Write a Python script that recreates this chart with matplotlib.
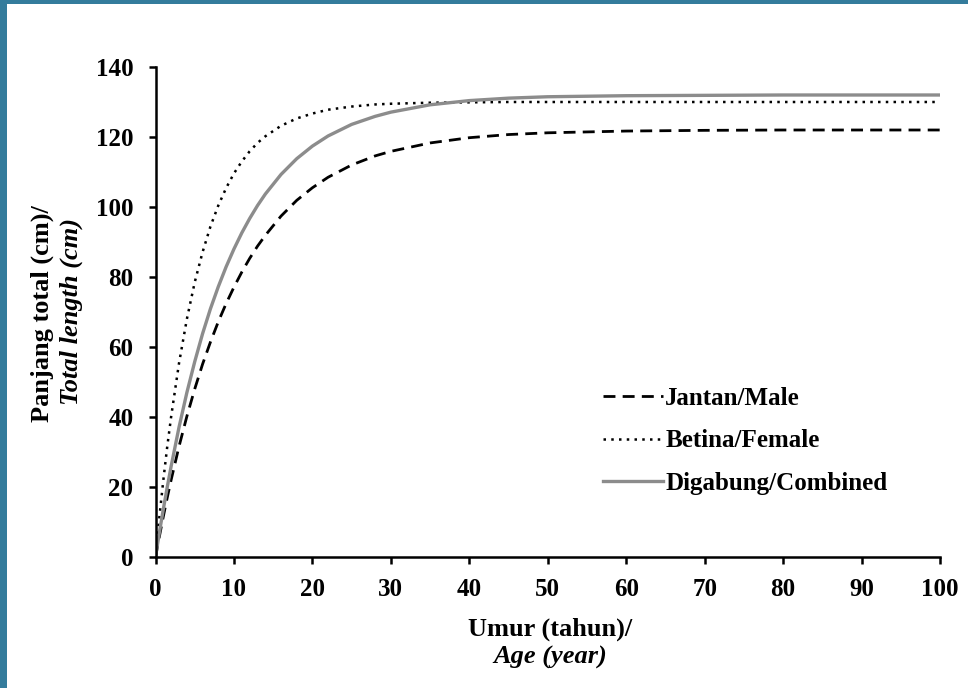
import matplotlib
matplotlib.use('agg')
import matplotlib.pyplot as plt
import matplotlib.patches as mpatches

# age (years) and estimated total length (cm)
ages = [0, 0.5, 1, 1.5, 2, 3, 4, 5, 6, 7, 8, 9, 10, 11, 12, 13, 14, 16, 18,
        20, 22, 25, 28, 30, 35, 40, 45, 50, 60, 70, 80, 90, 100]
male = [0, 5.9, 11.6, 17.0, 22.1, 31.6, 40.2, 48.0, 55.1, 61.4, 67.2, 72.4,
        77.1, 81.4, 85.3, 88.8, 91.9, 97.4, 101.9, 105.5, 108.5, 112.0,
        114.6, 115.9, 118.3, 119.8, 120.7, 121.2, 121.7, 121.9, 122.0, 122.0,
        122.0]
female = [0, 11.5, 22.0, 31.6, 40.2, 55.4, 68.0, 78.5, 87.1, 94.4, 100.4,
          105.4, 109.6, 113.0, 115.9, 118.3, 120.2, 123.2, 125.3, 126.7,
          127.8, 128.7, 129.3, 129.5, 129.8, 129.9, 130.0, 130.0, 130.0,
          130.0, 130.0, 130.0, 130.0]
combined = [0, 7.1, 13.7, 20.0, 26.0, 37.1, 47.0, 55.8, 63.8, 70.9, 77.2,
            82.9, 88.0, 92.6, 96.7, 100.4, 103.7, 109.3, 113.8, 117.4, 120.3,
            123.6, 125.9, 127.1, 129.2, 130.4, 131.1, 131.5, 131.8, 131.9,
            132.0, 132.0, 132.0]

labels = ['Jantan/Male', 'Betina/Female', 'Digabung/Combined']
xticks = list(range(0, 101, 10))
yticks = list(range(0, 141, 20))

plt.rcParams['font.family'] = ['Liberation Serif', 'DejaVu Serif']
plt.rcParams['font.weight'] = 'bold'

W, H = 968, 688
fig = plt.figure(figsize=(W / 100, H / 100), dpi=100)
fig.patch.set_facecolor('white')

# blue frame strips (top and left)
blue = '#347c9c'
fig.add_artist(mpatches.Rectangle((0, 0), 7 / W, 1, transform=fig.transFigure,
                                  color=blue, lw=0))
fig.add_artist(mpatches.Rectangle((0, 1 - 4 / H), 1, 4 / H,
                                  transform=fig.transFigure, color=blue, lw=0))

ax = fig.add_axes([155.5 / W, 131 / H, 784.5 / W, 490 / H])
ax.plot(ages, male, color='black', lw=2.0, dashes=(4.3, 2.6), label=labels[0])
ax.plot(ages, female, color='black', lw=1.8, dashes=(1, 2.1), label=labels[1])
ax.plot(ages, combined, color='#8c8c8c', lw=2.4, label=labels[2])

ax.set_xlim(0, 100)
ax.set_ylim(0, 140)
ax.set_xticks(xticks)
ax.set_yticks(yticks)
ax.tick_params(direction='out', length=5, width=1.8, labelsize=18)
ax.tick_params(axis='y', pad=11)
ax.tick_params(axis='x', pad=10)
for lab in ax.get_xticklabels() + ax.get_yticklabels():
    lab.set_fontweight('bold')
for s in ['top', 'right']:
    ax.spines[s].set_visible(False)
for s in ['left', 'bottom']:
    ax.spines[s].set_linewidth(1.8)

leg = ax.legend(loc='upper left', bbox_to_anchor=(0.570, 0.347), frameon=False,
                fontsize=18, handlelength=2.4, handletextpad=0.1,
                labelspacing=0.78, borderaxespad=0, borderpad=0)

fig.text(42 / W, 1 - 314 / H, 'Panjang total (cm)/', rotation=90,
         ha='center', va='center', fontsize=19, fontweight='bold')
fig.text(71 / W, 1 - 312 / H, 'Total length (cm)', rotation=90,
         ha='center', va='center', fontsize=19, fontweight='bold',
         style='italic')
fig.text(550 / W, 1 - 629 / H, 'Umur (tahun)/', ha='center', va='center',
         fontsize=19, fontweight='bold')
fig.text(550 / W, 1 - 657 / H, 'Age (year)', ha='center', va='center',
         fontsize=19, fontweight='bold', style='italic')

fig.savefig('out.png', dpi=100)
